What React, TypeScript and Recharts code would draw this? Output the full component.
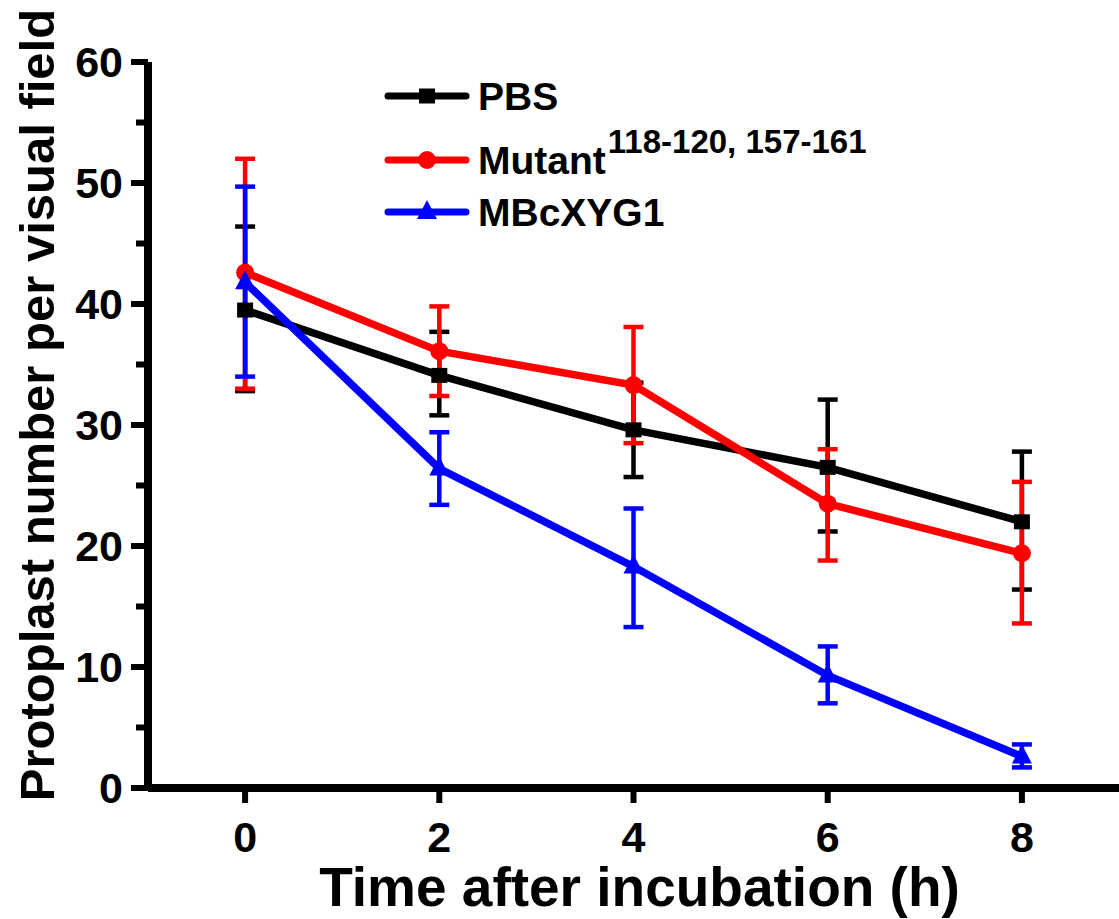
import React from 'react';
import { LineChart, Line, XAxis, YAxis, ErrorBar, Legend } from 'recharts';

// hours after incubation
const hours = [0, 2, 4, 6, 8];

// PBS
const pbsMean = [39.5, 34.1, 29.6, 26.5, 22.0];
const pbsHigh = [46.4, 37.7, 33.5, 32.1, 27.8];
const pbsLow = [32.8, 30.8, 25.7, 21.2, 16.4];

// Mutant 118-120, 157-161
const mutantMean = [42.6, 36.1, 33.3, 23.5, 19.4];
const mutantHigh = [52.0, 39.8, 38.1, 28.0, 25.3];
const mutantLow = [33.0, 32.4, 28.5, 18.8, 13.6];

// MBcXYG1
const mbcMean = [41.8, 26.4, 18.3, 9.3, 2.6];
const mbcHigh = [49.7, 29.4, 23.1, 11.7, 3.6];
const mbcLow = [34.0, 23.4, 13.3, 7.0, 1.7];

const xTicks = [0, 2, 4, 6, 8];
const yTicks = [0, 5, 10, 15, 20, 25, 30, 35, 40, 45, 50, 55, 60];

const series = [
  { key: 'pbs', name: 'PBS', sup: '', color: '#000000', shape: 'square', mean: pbsMean, high: pbsHigh, low: pbsLow },
  { key: 'mutant', name: 'Mutant', sup: '118-120, 157-161', color: '#ff0000', shape: 'circle', mean: mutantMean, high: mutantHigh, low: mutantLow },
  { key: 'mbc', name: 'MBcXYG1', sup: '', color: '#0000ff', shape: 'triangle', mean: mbcMean, high: mbcHigh, low: mbcLow },
];

const data = hours.map((h, i) => {
  const row: any = { h };
  series.forEach(s => {
    row[s.key] = s.mean[i];
    row[s.key + 'Err'] = [+(s.mean[i] - s.low[i]).toFixed(2), +(s.high[i] - s.mean[i]).toFixed(2)];
  });
  return row;
});

const FONT = '"Liberation Sans", Arial, sans-serif';
const TICK_SIZE = 17;
const TICK_MARGIN = 8;

const Marker = ({ shape, cx, cy, color }: any) => {
  if (shape === 'square') return <rect x={cx - 8} y={cy - 7.5} width={16} height={15} fill={color} />;
  if (shape === 'circle') return <circle cx={cx} cy={cy} r={9} fill={color} />;
  return <polygon points={`${cx},${cy - 12} ${cx - 10},${cy + 7} ${cx + 10},${cy + 7}`} fill={color} />;
};

const makeDot = (shape: string, color: string) => (props: any) => (
  <Marker key={props.index} shape={shape} cx={props.cx} cy={props.cy} color={color} />
);

const YTick = (props: any) => {
  const { x, y, payload } = props;
  const lineX = x + TICK_SIZE + TICK_MARGIN;
  const major = payload.value % 10 === 0;
  return (
    <g>
      <line x1={lineX} x2={lineX - (major ? TICK_SIZE : 12)} y1={y} y2={y} stroke="#000" strokeWidth={6} />
      {major && (
        <text x={x} y={y} dy="0.36em" textAnchor="end" fontSize={43} fontWeight="bold" fontFamily={FONT} fill="#000">
          {payload.value}
        </text>
      )}
    </g>
  );
};

const XTitle = ({ viewBox }: any) => (
  <text x={viewBox.x + viewBox.width / 2 + 6} y={906} textAnchor="middle" fontSize={55} fontWeight="bold" fontFamily={FONT} fill="#000">
    Time after incubation (h)
  </text>
);

const YTitle = () => (
  <text x={0} y={0} transform="translate(36, 405) rotate(-90)" dy="0.36em" textAnchor="middle" fontSize={49} fontWeight="bold" fontFamily={FONT} fill="#000">
    Protoplast number per visual field
  </text>
);

const rowY = [36, 100, 152];

const LegendBox = () => (
  <svg width={560} height={180} style={{ overflow: 'visible' }}>
    {series.map((s, i) => (
      <g key={s.key}>
        <line x1={12} x2={90} y1={rowY[i]} y2={rowY[i]} stroke={s.color} strokeWidth={7} strokeLinecap="round" />
        <Marker shape={s.shape} cx={51} cy={rowY[i]} color={s.color} />
        <text x={102} y={rowY[i]} dy="0.36em" fontSize={39} fontWeight="bold" fontFamily={FONT} fill="#000">
          {s.name}
          {s.sup && <tspan dx={2} dy={-21} fontSize={33}>{s.sup}</tspan>}
        </text>
      </g>
    ))}
  </svg>
);

export default function App() {
  return (
    <div style={{ position: 'absolute', left: 0, top: 0, background: '#fff' }}>
      <LineChart width={1119} height={919} data={data} margin={{ top: 62, right: 0, left: 0, bottom: 71 }}>
        <XAxis
          dataKey="h"
          type="number"
          domain={[-1, 9]}
          ticks={xTicks}
          allowDataOverflow
          height={60}
          tickSize={15}
          tickMargin={18}
          axisLine={{ stroke: '#000', strokeWidth: 8 }}
          tickLine={{ stroke: '#000', strokeWidth: 6 }}
          tick={{ fontSize: 43, fontWeight: 'bold', fontFamily: FONT, fill: '#000' }}
          label={<XTitle />}
        />
        <YAxis
          type="number"
          domain={[0, 60]}
          ticks={yTicks}
          interval={0}
          width={148}
          tickSize={TICK_SIZE}
          tickMargin={TICK_MARGIN}
          axisLine={{ stroke: '#000', strokeWidth: 8 }}
          tickLine={false}
          tick={<YTick />}
          label={<YTitle />}
        />
        <Legend
          layout="vertical"
          align="center"
          verticalAlign="middle"
          content={<LegendBox />}
          wrapperStyle={{ left: 376, top: 60, width: 560, height: 180 }}
        />
        {series.map(s => (
          <Line
            key={s.key}
            dataKey={s.key}
            name={s.name}
            stroke={s.color}
            strokeWidth={7.5}
            dot={makeDot(s.shape, s.color)}
            activeDot={false}
            isAnimationActive={false}
          >
            <ErrorBar dataKey={s.key + 'Err'} direction="y" width={10} stroke={s.color} strokeWidth={4.5} isAnimationActive={false} />
          </Line>
        ))}
      </LineChart>
    </div>
  );
}
